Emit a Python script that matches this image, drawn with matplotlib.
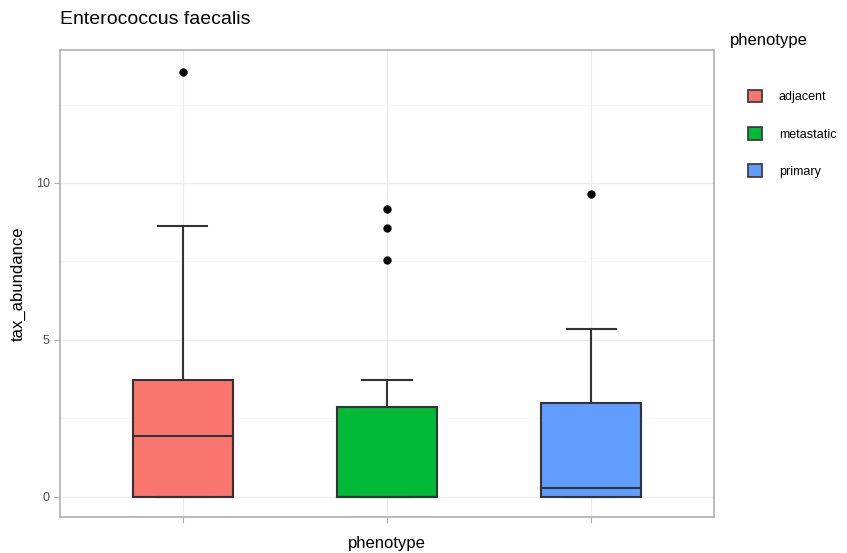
import matplotlib
matplotlib.use("Agg")
import matplotlib.pyplot as plt
from matplotlib.patches import Patch

plt.rcParams["font.family"] = ["Liberation Sans", "DejaVu Sans"]

# boxplot summary per phenotype
phenotypes = ["adjacent", "metastatic", "primary"]
colors = ["#F8766D", "#00BA38", "#619CFF"]
q1 = [0.0, 0.0, 0.0]
medians = [1.93, 0.0, 0.29]
q3 = [3.72, 2.85, 2.97]
whisk_lo = [0.0, 0.0, 0.0]
whisk_hi = [8.63, 3.72, 5.33]
outliers = [[13.54], [9.17, 8.58, 7.56], [9.66]]

stats = []
for i, name in enumerate(phenotypes):
    stats.append(dict(label=name, q1=q1[i], med=medians[i], q3=q3[i],
                      whislo=whisk_lo[i], whishi=whisk_hi[i], fliers=outliers[i]))

fig = plt.figure(figsize=(8.47, 5.53), dpi=100)
ax = fig.add_axes([60 / 847, 36 / 553, 654 / 847, 467 / 553])

edge = "#333333"
positions = [1, 2, 3]
bp = ax.bxp(stats, positions=positions, widths=0.49, patch_artist=True,
            showfliers=True, zorder=3,
            boxprops=dict(edgecolor=edge, linewidth=1.5),
            medianprops=dict(color=edge, linewidth=1.5),
            whiskerprops=dict(color=edge, linewidth=1.5),
            capprops=dict(color=edge, linewidth=1.5),
            flierprops=dict(marker="o", markerfacecolor="black", markeredgecolor="black",
                            markersize=5))
for patch, c in zip(bp["boxes"], colors):
    patch.set_facecolor(c)
# caps half the box width
for cap in bp["caps"]:
    x = cap.get_xdata()
    mid = (x[0] + x[1]) / 2
    cap.set_xdata([mid - 0.12, mid + 0.12])

ax.set_xlim(0.4, 3.6)
ax.set_ylim(-0.65, 14.24)
ax.set_xticks(positions)
ax.set_xticklabels(["", "", ""])
ax.set_yticks([0, 5, 10])
ax.set_yticks([2.5, 7.5, 12.5], minor=True)
ax.grid(True, which="major", color="#EBEBEB", linewidth=0.9, zorder=0)
ax.grid(True, which="minor", axis="y", color="#F4F4F4", linewidth=0.5, zorder=0)
ax.set_axisbelow(True)
ax.tick_params(axis="both", which="major", colors="#B0B0B0", labelcolor="#4D4D4D",
               labelsize=9, length=4, width=0.8)
ax.tick_params(axis="y", which="minor", length=0)
for sp in ax.spines.values():
    sp.set_color("#B0B0B0")
    sp.set_linewidth(1.2)

ax.set_xlabel("phenotype", fontsize=12, color="black", labelpad=6)
ax.set_ylabel("tax_abundance", fontsize=12, color="black", labelpad=7)
fig.text(60 / 847, 1 - 20 / 553, "Enterococcus faecalis", fontsize=14, va="center", ha="left")

# legend: title placed separately, keys indented beneath it
fig.text(730 / 847, 1 - 40 / 553, "phenotype", fontsize=12, va="center", ha="left")
handles = [Patch(facecolor=c, edgecolor=edge, linewidth=1.2) for c in colors]
leg = fig.legend(handles, phenotypes, loc="upper left",
                 bbox_to_anchor=(748 / 847, 1 - 90 / 553), frameon=False,
                 fontsize=9, handlelength=1.1, handleheight=1.15, borderpad=0,
                 labelspacing=1.9, handletextpad=1.36, borderaxespad=0)

fig.savefig("out.png", dpi=100)
